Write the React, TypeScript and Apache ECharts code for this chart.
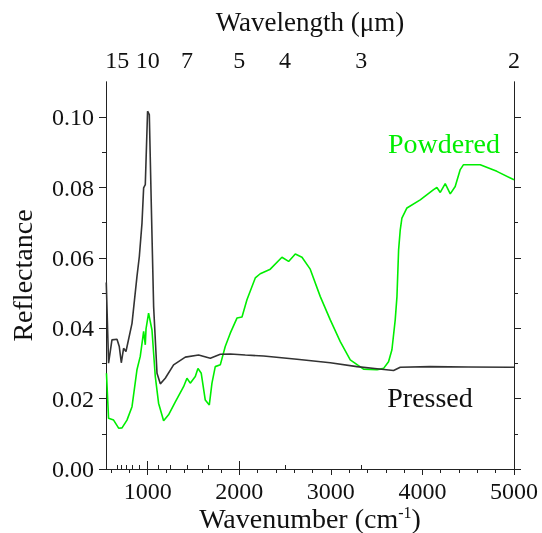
import React, { useEffect, useRef } from "react";
import * as echarts from "echarts";

// Wavenumber axis (cm-1)
const wnMin = 545;
const wnMax = 5000;
const wnMajorTicks = [1000, 2000, 3000, 4000, 5000];
const wnMinorTicks = [600, 800, 1200, 1400, 1600, 1800, 2200, 2400, 2600, 2800, 3200, 3400, 3600, 3800, 4200, 4400, 4600, 4800];

// Wavelength axis (µm)
const wlLabels = [15, 10, 7, 5, 4, 3, 2];
const wlLongTicks = [10, 5, 2];
const wlShortTicks = [15, 14, 13, 12, 11, 9, 8, 7, 6, 4, 3];

// Reflectance axis
const refMajorTicks = [0, 0.02, 0.04, 0.06, 0.08, 0.1];
const refMinorTicks = [0.01, 0.03, 0.05, 0.07, 0.09];

// Pressed (black)
const pressedWn = [548, 573, 610, 665, 690, 712, 737, 763, 829, 883, 909, 938, 956, 974, 999, 1018, 1040, 1065, 1102, 1138, 1192, 1283, 1411, 1556, 1684, 1793, 1902, 2066, 2266, 2630, 2994, 3285, 3504, 3685, 3758, 4085, 4500, 5000];
const pressedVal = [0.053, 0.0301, 0.0367, 0.0369, 0.0348, 0.0302, 0.0343, 0.0334, 0.0414, 0.0547, 0.0604, 0.0699, 0.0799, 0.0808, 0.1017, 0.1007, 0.0746, 0.0462, 0.0272, 0.0242, 0.0258, 0.0296, 0.0318, 0.0324, 0.0315, 0.0326, 0.0327, 0.0324, 0.0321, 0.0312, 0.0302, 0.0291, 0.0285, 0.028, 0.0289, 0.0291, 0.029, 0.0289];

// Powdered (green)
const powderedWn = [550, 573, 628, 683, 720, 774, 829, 883, 919, 956, 974, 982, 1010, 1047, 1083, 1119, 1174, 1228, 1302, 1392, 1429, 1465, 1520, 1549, 1585, 1629, 1673, 1702, 1738, 1793, 1847, 1902, 1975, 2030, 2084, 2175, 2229, 2339, 2466, 2539, 2612, 2685, 2775, 2885, 2994, 3103, 3212, 3357, 3504, 3576, 3630, 3667, 3703, 3722, 3740, 3758, 3776, 3831, 3976, 4122, 4158, 4195, 4249, 4304, 4358, 4413, 4449, 4631, 4813, 5000];
const powderedVal = [0.0272, 0.0144, 0.0139, 0.0116, 0.0117, 0.0139, 0.0177, 0.0282, 0.032, 0.0391, 0.0353, 0.0398, 0.0443, 0.0395, 0.0263, 0.0187, 0.0137, 0.0154, 0.0191, 0.0234, 0.0258, 0.0244, 0.0263, 0.0286, 0.0272, 0.0196, 0.0182, 0.0244, 0.0291, 0.0296, 0.0348, 0.0386, 0.0429, 0.0432, 0.0481, 0.0543, 0.0555, 0.0568, 0.0602, 0.059, 0.0611, 0.0602, 0.0568, 0.049, 0.0424, 0.0362, 0.031, 0.0284, 0.0282, 0.0286, 0.0305, 0.0339, 0.0424, 0.049, 0.0623, 0.068, 0.0713, 0.0742, 0.0765, 0.0794, 0.08, 0.0786, 0.0811, 0.0782, 0.0803, 0.0851, 0.0865, 0.0865, 0.0846, 0.0822];

const FONT = "Liberation Serif";
const AXIS_COLOR = "#222";
const GREEN = "#00ee00";
const BLACK = "#333333";

const toWn = (um: number) => 10000 / um;

export default function App() {
  const ref = useRef<HTMLDivElement>(null);
  useEffect(() => {
    if (!ref.current) return;
    const chart = echarts.init(ref.current, undefined, { renderer: "svg" });
    const axisLine = { show: true, lineStyle: { color: AXIS_COLOR, width: 1 } };
    const hiddenLabel = { show: false };
    const noSplit = { show: false };
    const base = { type: "value" as const, min: wnMin, max: wnMax, splitLine: noSplit, axisLine };
    const yBase = { type: "value" as const, min: 0, max: 0.11, splitLine: noSplit, axisLine };
    chart.setOption({
      animation: false,
      grid: { left: 106, right: 28, top: 82, bottom: 64, containLabel: false, outerBoundsMode: "none" },
      xAxis: [
        {
          ...base,
          position: "bottom",
          axisTick: { show: true, length: 6, lineStyle: { color: AXIS_COLOR }, customValues: wnMajorTicks },
          axisLabel: {
            customValues: wnMajorTicks,
            formatter: (v: number) => String(Math.round(v)),
            fontSize: 24,
            fontFamily: FONT,
            color: "#111",
            margin: 10,
          },
        },
        {
          ...base,
          position: "bottom",
          axisTick: { show: true, length: 4, lineStyle: { color: AXIS_COLOR }, customValues: wnMinorTicks },
          axisLabel: hiddenLabel,
        },
        {
          ...base,
          position: "top",
          axisTick: { show: true, length: 8, lineStyle: { color: AXIS_COLOR }, customValues: wlLongTicks.map(toWn) },
          axisLabel: {
            customValues: wlLabels.map(toWn),
            formatter: (v: number) => String(Math.round(10000 / v)),
            fontSize: 24,
            fontFamily: FONT,
            color: "#111",
            margin: 10,
          },
          name: "Wavelength (μm)",
          nameLocation: "middle",
          nameGap: 47,
          nameTextStyle: { fontSize: 27, fontFamily: FONT, color: "#111" },
        },
        {
          ...base,
          position: "top",
          axisTick: { show: true, length: 4, lineStyle: { color: AXIS_COLOR }, customValues: wlShortTicks.map(toWn) },
          axisLabel: hiddenLabel,
        },
      ],
      yAxis: [
        {
          ...yBase,
          position: "left",
          axisTick: { show: true, length: 7, lineStyle: { color: AXIS_COLOR }, customValues: refMajorTicks },
          axisLabel: {
            customValues: refMajorTicks,
            formatter: (v: number) => v.toFixed(2),
            fontSize: 24,
            fontFamily: FONT,
            color: "#111",
            margin: 12,
          },
          name: "Reflectance",
          nameLocation: "middle",
          nameRotate: 90,
          nameGap: 70,
          nameTextStyle: { fontSize: 28, fontFamily: FONT, color: "#111" },
        },
        {
          ...yBase,
          position: "left",
          axisTick: { show: true, length: 4, lineStyle: { color: AXIS_COLOR }, customValues: refMinorTicks },
          axisLabel: hiddenLabel,
        },
        {
          ...yBase,
          position: "right",
          axisTick: { show: true, length: 7, lineStyle: { color: AXIS_COLOR }, customValues: refMajorTicks },
          axisLabel: hiddenLabel,
        },
        {
          ...yBase,
          position: "right",
          axisTick: { show: true, length: 4, lineStyle: { color: AXIS_COLOR }, customValues: refMinorTicks },
          axisLabel: hiddenLabel,
        },
      ],
      series: [
        {
          name: "Powdered",
          type: "line",
          xAxisIndex: 0,
          yAxisIndex: 0,
          showSymbol: false,
          symbol: "none",
          lineStyle: { color: GREEN, width: 1.6 },
          data: powderedWn.map((w, i) => [w, powderedVal[i]]),
        },
        {
          name: "Pressed",
          type: "line",
          xAxisIndex: 0,
          yAxisIndex: 0,
          showSymbol: false,
          symbol: "none",
          lineStyle: { color: BLACK, width: 1.6 },
          data: pressedWn.map((w, i) => [w, pressedVal[i]]),
        },
      ],
      graphic: [
        {
          type: "text",
          x: 310,
          y: 518,
          style: {
            text: "Wavenumber (cm{sup|-1})",
            fill: "#111",
            font: `28px "${FONT}"`,
            fontSize: 28,
            fontFamily: FONT,
            lineHeight: 28,
            align: "center",
            verticalAlign: "middle",
            rich: { sup: { fontSize: 16, fontFamily: FONT, fill: "#111", verticalAlign: "top", lineHeight: 16 } },
          },
        },
        {
          type: "text",
          x: 444,
          y: 143,
          style: { text: "Powdered", fill: GREEN, font: `28px "${FONT}"`, align: "center", verticalAlign: "middle" },
        },
        {
          type: "text",
          x: 430,
          y: 397,
          style: { text: "Pressed", fill: "#111", font: `28px "${FONT}"`, align: "center", verticalAlign: "middle" },
        },
      ],
    });
    return () => chart.dispose();
  }, []);
  return <div ref={ref} style={{ position: "fixed", left: 0, top: 0, width: 542, height: 533 }} />;
}
